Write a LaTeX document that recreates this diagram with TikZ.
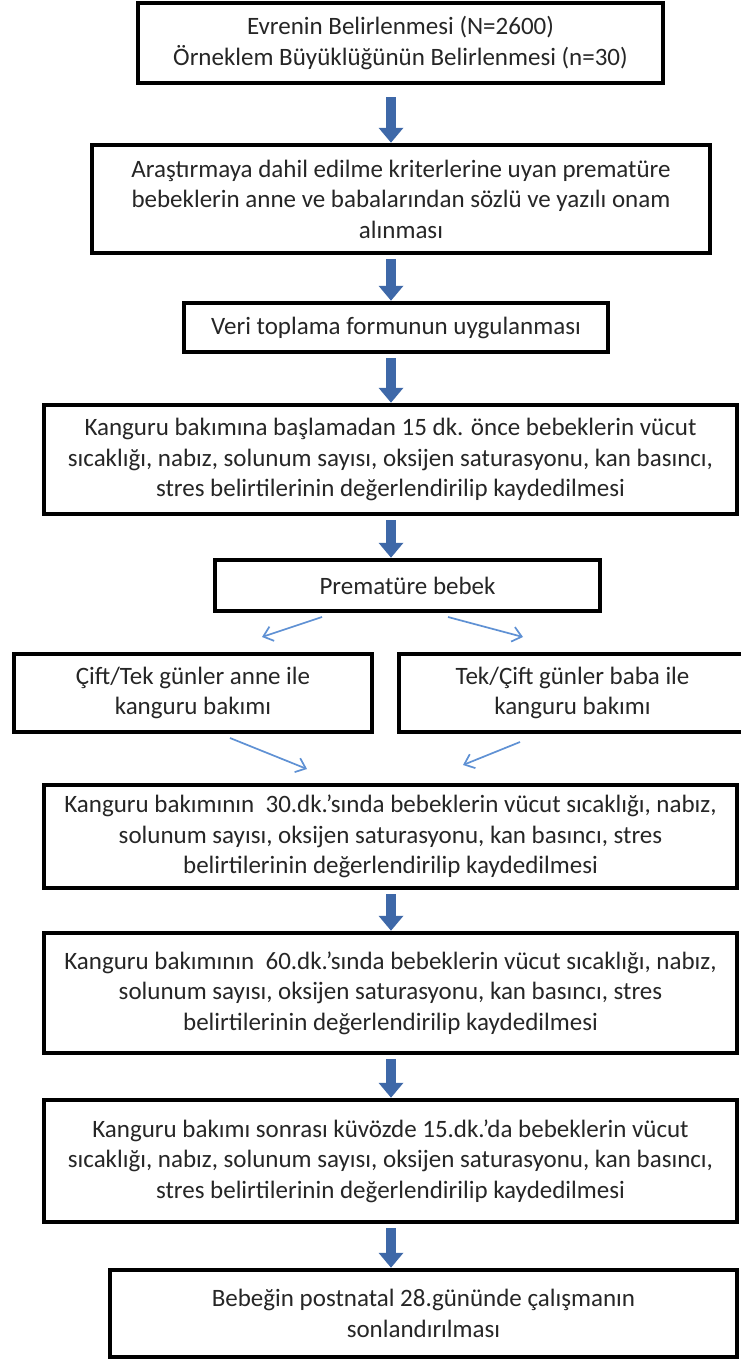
\documentclass[tikz,border=0pt]{standalone}
\usepackage{fontspec}
\setmainfont{Carlito}
\usetikzlibrary{arrows.meta}
\definecolor{bigblue}{RGB}{62,104,168}
\definecolor{thinblue}{RGB}{95,145,212}
\definecolor{txt}{RGB}{38,38,38}
\begin{document}
\begin{tikzpicture}[x=1pt,y=-1pt,
  box/.style={draw=black,line width=4.5pt,align=center,inner sep=2pt,
    font=\fontsize{25}{30.5}\selectfont,text=txt},
  bigarrow/.style={draw=bigblue,line width=10pt,
    -{Triangle[width=24pt,length=15pt]},color=bigblue},
  thinarrow/.style={draw=thinblue,line width=1.7pt,
    -{Straight Barb[width=15pt,length=9pt,line width=1.7pt]}}]
\useasboundingbox (0,0) rectangle (741,1360);
\fill[white] (0,0) rectangle (741,1360);
\coordinate (axis) at (391,0);

\node[box,minimum width=525pt,minimum height=80pt] (b1) at (400.5,43)
  {Evrenin Belirlenmesi (N=2600)\\Örneklem Büyüklüğünün Belirlenmesi (n=30)};
\node[box,minimum width=618pt,minimum height=108pt] (b2) at (401,199)
  {Araştırmaya dahil edilme kriterlerine uyan prematüre\\bebeklerin anne ve babalarından sözlü ve yazılı onam\\alınması};
\node[box,minimum width=424pt,minimum height=49pt] (b3) at (396,327.5)
  {Veri toplama formunun uygulanması};
\node[box,minimum width=693pt,minimum height=109pt] (b4) at (390.5,459.5)
  {Kanguru bakımına başlamadan 15 dk. önce bebeklerin vücut\\sıcaklığı, nabız, solunum sayısı, oksijen saturasyonu, kan basıncı,\\stres belirtilerinin değerlendirilip kaydedilmesi};
\node[box,minimum width=385pt,minimum height=51pt] (b5) at (407.5,585.5)
  {Prematüre bebek};
\node[box,minimum width=358pt,minimum height=78pt] (b6l) at (193,693)
  {Çift/Tek günler anne ile\\kanguru bakımı};
\node[box,minimum width=347pt,minimum height=78pt] (b6r) at (572.5,693)
  {Tek/Çift günler baba ile\\kanguru bakımı};
\node[box,minimum width=693pt,minimum height=103pt] (b7) at (390.5,836.5)
  {Kanguru bakımının \ 30.dk.’sında bebeklerin vücut sıcaklığı, nabız,\\solunum sayısı, oksijen saturasyonu, kan basıncı, stres\\belirtilerinin değerlendirilip kaydedilmesi};
\node[box,minimum width=693pt,minimum height=120pt] (b8) at (390.5,993)
  {Kanguru bakımının \ 60.dk.’sında bebeklerin vücut sıcaklığı, nabız,\\solunum sayısı, oksijen saturasyonu, kan basıncı, stres\\belirtilerinin değerlendirilip kaydedilmesi};
\node[box,minimum width=693pt,minimum height=122pt] (b9) at (390.5,1161)
  {Kanguru bakımı sonrası küvözde 15.dk.’da bebeklerin vücut\\sıcaklığı, nabız, solunum sayısı, oksijen saturasyonu, kan basıncı,\\stres belirtilerinin değerlendirilip kaydedilmesi};
\node[box,minimum width=627pt,minimum height=87pt] (b10) at (423.5,1313.5)
  {Bebeğin postnatal 28.gününde çalışmanın\\sonlandırılması};

\draw[bigarrow,shorten <=12pt] (b1.south -| axis) -- (b2.north -| axis);
\foreach \a/\b in {b2/b3,b3/b4,b4/b5,b7/b8,b8/b9,b9/b10}
  \draw[bigarrow,shorten <=4pt] (\a.south -| axis) -- (\b.north -| axis);

\coordinate (t1s) at (322,617); \coordinate (t1e) at (262,637);
\coordinate (t2s) at (448,617); \coordinate (t2e) at (523,637);
\coordinate (t3s) at (230,738); \coordinate (t3e) at (307,769);
\coordinate (t4s) at (520,742); \coordinate (t4e) at (463,765);
\draw[thinarrow] (t1s) -- (t1e);
\draw[thinarrow] (t2s) -- (t2e);
\draw[thinarrow] (t3s) -- (t3e);
\draw[thinarrow] (t4s) -- (t4e);
\end{tikzpicture}
\end{document}
